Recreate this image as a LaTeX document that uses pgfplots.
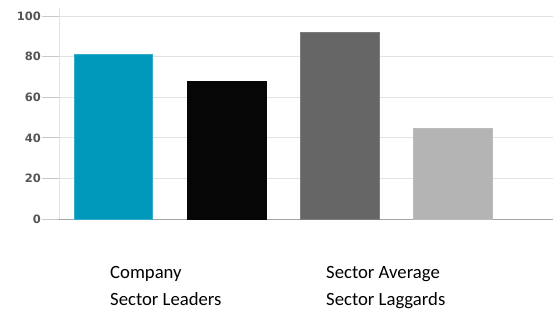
\documentclass[border=0pt]{standalone}
\usepackage{fontspec}
\setmainfont{Carlito}
\newfontfamily\tickfont{DejaVu Sans}
\usepackage{pgfplots}
\pgfplotsset{compat=1.18}
\definecolor{cCompany}{RGB}{0,152,187}
\definecolor{cLeaders}{RGB}{6,6,6}
\definecolor{cAverage}{RGB}{102,102,102}
\definecolor{cLaggards}{RGB}{180,180,180}
\definecolor{gridc}{RGB}{226,226,226}
\definecolor{tickc}{RGB}{200,200,200}
\definecolor{labc}{RGB}{85,85,85}
\begin{document}
\begin{tikzpicture}
\useasboundingbox (-59pt,-92pt) rectangle (494pt,219pt);
\begin{axis}[
  at={(0pt,0pt)}, anchor=south west,
  scale only axis, width=494pt, height=211pt,
  xmin=-0.48, xmax=3.884, ymin=0, ymax=104,
  xtick=\empty,
  ytick={0,20,40,60,80,100},
  axis x line*=bottom, axis y line*=left,
  x axis line style={draw=gray!70, -},
  y axis line style={draw=gridc, -},
  ymajorgrids, grid style={draw=gridc, line width=0.8pt},
  tick align=outside, major tick length=17pt,
  ytick style={draw=tickc, line width=0.8pt},
  yticklabel style={font=\tickfont\bfseries\fontsize{11.5}{12}\selectfont, text=labc, inner sep=1pt},
  /pgf/number format/assume math mode=true,
  ybar, bar width=78.6pt,
  every axis plot/.append style={bar shift=0pt},
  legend image code/.code={},
  legend columns=2, transpose legend,
  legend style={draw=none, fill=none, at={(axis cs:-0.48,0)}, anchor=north west,
    xshift=49pt, yshift=-45pt,
    font=\fontsize{18.7}{20}\selectfont, row sep=9pt,
    inner sep=0pt},
  legend cell align=left,
]
\addplot[fill=cCompany, draw=cCompany!80!white] coordinates {(0,81)};
\addlegendentry{\makebox[212pt][l]{Company}}
\addplot[fill=cLeaders, draw=cLeaders] coordinates {(1,68)};
\addlegendentry{\makebox[212pt][l]{Sector Leaders}}
\addplot[fill=cAverage, draw=cAverage!85!white] coordinates {(2,92.3)};
\addlegendentry{Sector Average}
\addplot[fill=cLaggards, draw=cLaggards!90!white] coordinates {(3,44.8)};
\addlegendentry{Sector Laggards}
\end{axis}
\end{tikzpicture}
\end{document}
